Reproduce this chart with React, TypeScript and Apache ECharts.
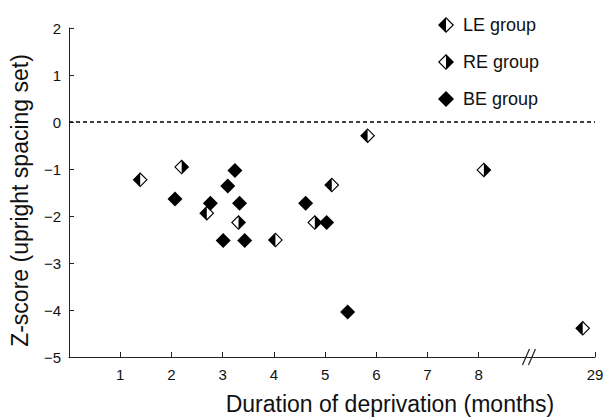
import React, { useEffect, useRef } from "react";
import * as echarts from "echarts";

// ---- data (months of deprivation, Z-score) ----
const LE_MONTHS = [1.39, 2.69, 4.03, 5.13, 5.83, 28.76];
const LE_Z = [-1.23, -1.94, -2.51, -1.34, -0.29, -4.39];

const RE_MONTHS = [2.2, 3.31, 4.8, 8.1];
const RE_Z = [-0.96, -2.14, -2.14, -1.02];

const BE_MONTHS = [2.07, 2.76, 3.01, 3.1, 3.24, 3.33, 3.43, 4.62, 5.03, 5.44];
const BE_Z = [-1.64, -1.73, -2.52, -1.36, -1.03, -1.73, -2.52, -1.73, -2.14, -4.04];

const X_TICK_VALUES = [1, 2, 3, 4, 5, 6, 7, 8];
const BREAK_TICK_LABEL = "29";
const BREAK_MONTH = 29;
const Y_MIN = -5;
const Y_MAX = 2;

// the axis is broken between 8 and 29 months; 29 months sits at axis position AXIS_END
const AXIS_END = 10.27;
const BREAK_POS = 8.99;
const toAxis = (m: number) => (m <= 8.5 ? m : AXIS_END - (BREAK_MONTH - m));

// half-filled diamonds as single paths (outer diamond minus a hole in one half)
const LE_PATH =
  "path://M10,0 L20,10 L10,20 L0,10 Z M10,2.1 L10,17.9 L17.9,10 Z";
const RE_PATH =
  "path://M10,0 L20,10 L10,20 L0,10 Z M10,2.1 L2.1,10 L10,17.9 Z";

const FONT = "'Liberation Sans', Arial, Helvetica, sans-serif";

export default function App() {
  const ref = useRef<HTMLDivElement>(null);
  useEffect(() => {
    if (!ref.current) return;
    const chart = echarts.init(ref.current, undefined, { renderer: "svg" });
    const ticks = [...X_TICK_VALUES, AXIS_END];
    const mk = (ms: number[], zs: number[]) => ms.map((m, i) => [toAxis(m), zs[i]]);
    const marker = { color: "#000", opacity: 1 };
    chart.setOption({
      animation: false,
      grid: { left: 69, right: 8, top: 28, bottom: 61, containLabel: false, outerBoundsMode: "none" },
      legend: {
        orient: "vertical",
        left: 438,
        top: 16,
        padding: 0,
        itemWidth: 16,
        itemHeight: 16,
        itemGap: 19,
        textStyle: { fontFamily: FONT, fontSize: 18, color: "#111", padding: [0, 0, 0, 4] },
        data: [
          { name: "LE group", icon: LE_PATH },
          { name: "RE group", icon: RE_PATH },
          { name: "BE group", icon: "diamond" },
        ],
      },
      xAxis: {
        type: "value",
        min: 0,
        max: AXIS_END,
        splitLine: { show: false },
        axisLine: { show: true, onZero: false, lineStyle: { color: "#222", width: 1 } },
        axisTick: { show: true, inside: true, length: 5, customValues: ticks, lineStyle: { color: "#222" } },
        axisLabel: {
          customValues: ticks,
          margin: 10,
          fontFamily: FONT,
          fontSize: 15,
          color: "#111",
          formatter: (v: number) => (v > 9 ? BREAK_TICK_LABEL : String(v)),
        },
        name: "Duration of deprivation (months)",
        nameLocation: "middle",
        nameGap: 35,
        nameTextStyle: { fontFamily: FONT, fontSize: 23, color: "#111", padding: [0, 0, 0, 116] },
      },
      yAxis: {
        type: "value",
        min: Y_MIN,
        max: Y_MAX,
        interval: 1,
        splitLine: { show: false },
        axisLine: { show: true, onZero: false, lineStyle: { color: "#222", width: 1 } },
        axisTick: { show: true, inside: true, length: 5, lineStyle: { color: "#222" } },
        axisLabel: {
          margin: 8,
          fontFamily: FONT,
          fontSize: 15,
          color: "#111",
          formatter: (v: number) => (v < 0 ? "\u2212" + Math.abs(v) : String(v)),
        },
        name: "Z-score (upright spacing set)",
        nameLocation: "middle",
        nameGap: 38,
        nameTextStyle: { fontFamily: FONT, fontSize: 23, color: "#111", padding: [0, 16, 0, 0] },
      },
      series: [
        {
          name: "LE group",
          type: "scatter",
          symbol: LE_PATH,
          symbolSize: 15,
          itemStyle: marker,
          data: mk(LE_MONTHS, LE_Z),
          markLine: {
            silent: true,
            symbol: "none",
            label: { show: false },
            lineStyle: { color: "#000", type: [4, 3], width: 1.6, opacity: 1 },
            data: [{ yAxis: 0 }],
          },
        },
        {
          name: "RE group",
          type: "scatter",
          symbol: RE_PATH,
          symbolSize: 15,
          itemStyle: marker,
          data: mk(RE_MONTHS, RE_Z),
        },
        {
          name: "BE group",
          type: "scatter",
          symbol: "diamond",
          symbolSize: 15,
          itemStyle: marker,
          data: mk(BE_MONTHS, BE_Z),
        },
      ],
    });
    const p = chart.convertToPixel({ gridIndex: 0 }, [BREAK_POS, Y_MIN]) as number[];
    if (p) {
      const [bx, by] = p;
      chart.setOption({
        graphic: [
          {
            type: "line",
            shape: { x1: bx - 7, y1: by + 8, x2: bx + 0, y2: by - 8 },
            style: { stroke: "#222", lineWidth: 1.2 },
          },
          {
            type: "line",
            shape: { x1: bx - 1, y1: by + 8, x2: bx + 6, y2: by - 8 },
            style: { stroke: "#222", lineWidth: 1.2 },
          },
        ],
      });
    }
    return () => chart.dispose();
  }, []);
  return (
    <div
      ref={ref}
      style={{ position: "fixed", left: 0, top: 0, width: 603, height: 418, background: "#fff" }}
    />
  );
}
